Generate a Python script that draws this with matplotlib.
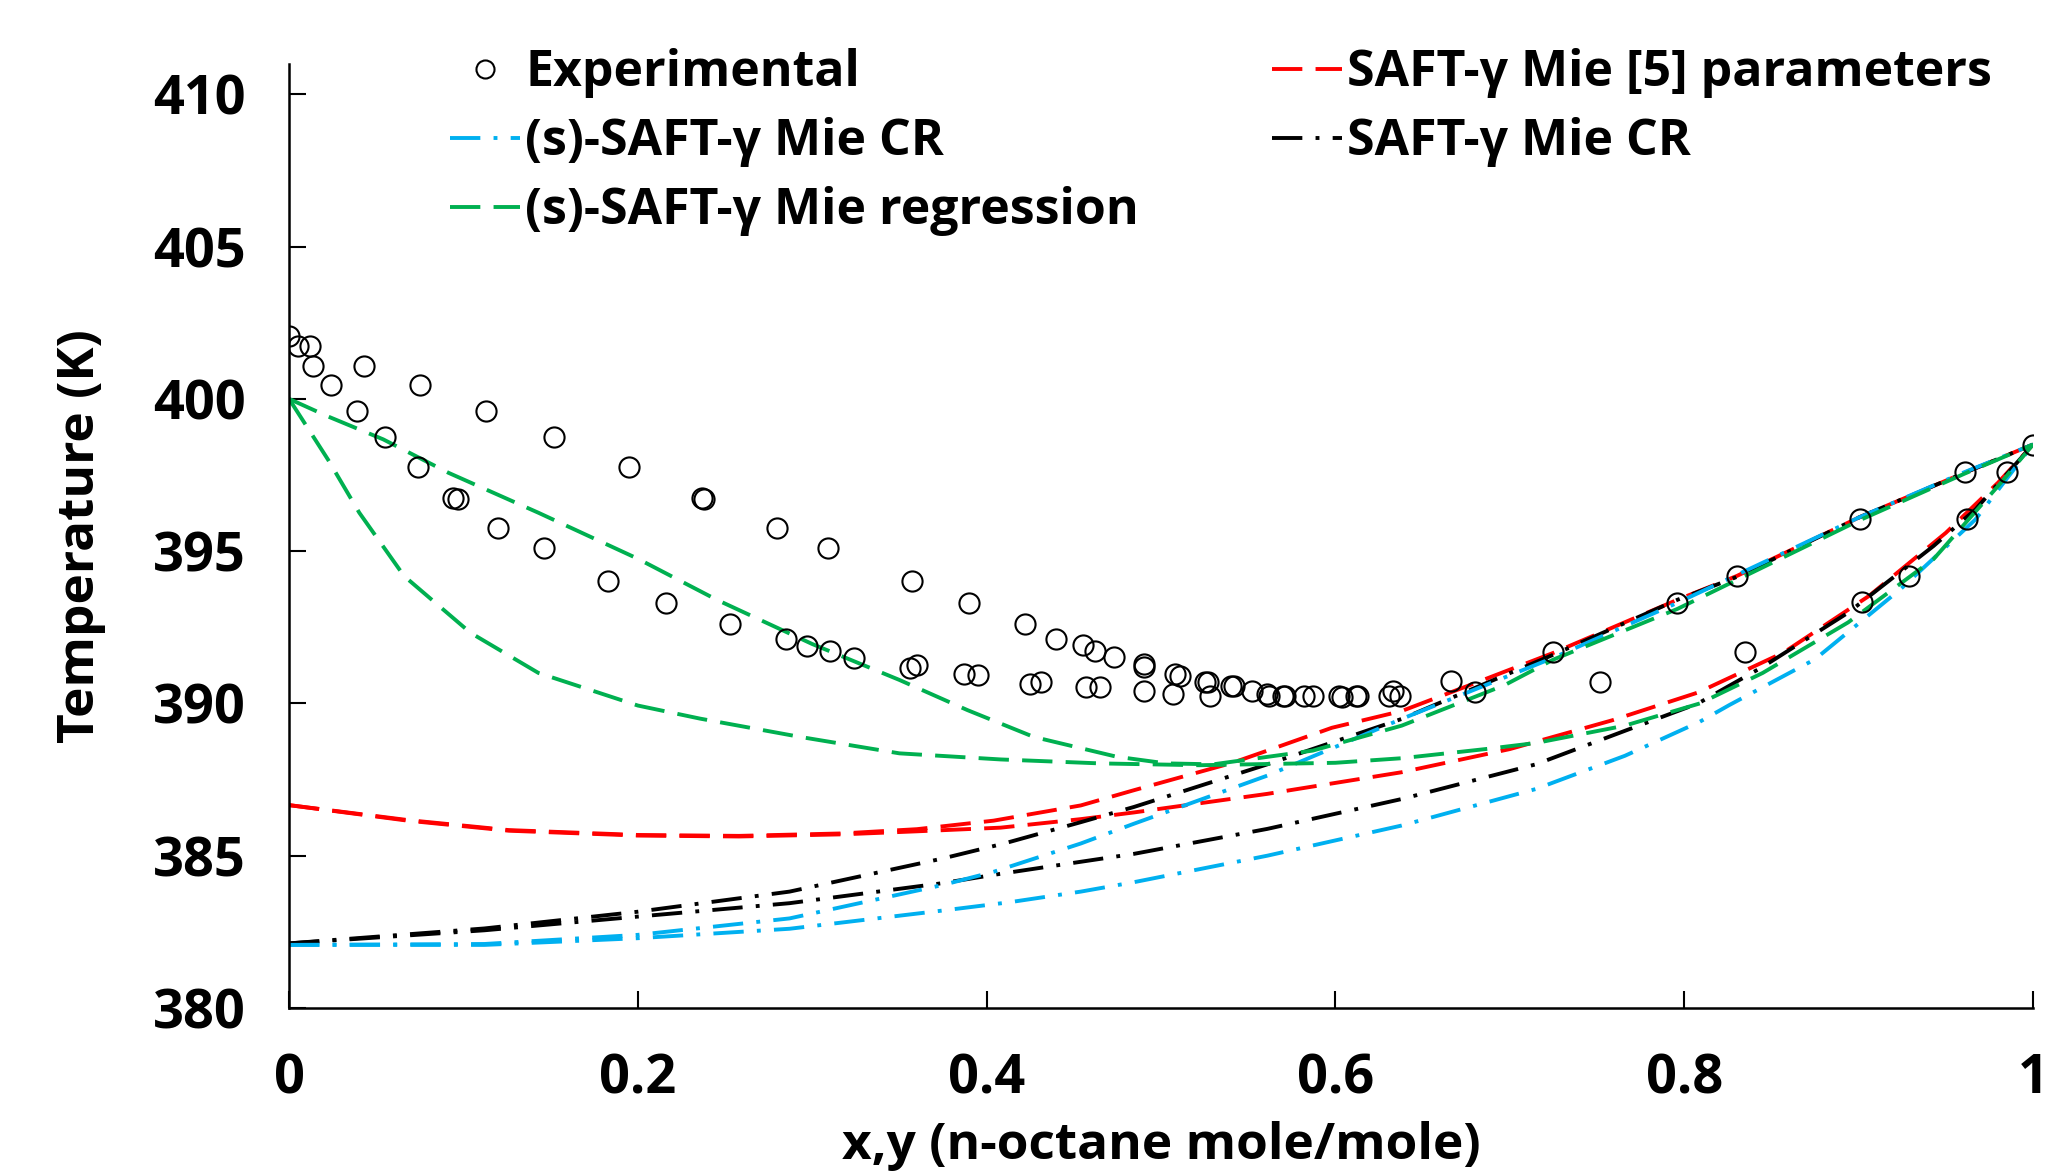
import matplotlib
matplotlib.use("Agg")
import matplotlib.pyplot as plt
from matplotlib.lines import Line2D

# Experimental T-x-y points
exp_x = [0.000, 0.005, 0.012, 0.014, 0.024, 0.043, 0.039, 0.055, 0.075, 0.074,
         0.094, 0.097, 0.113, 0.120, 0.146, 0.152, 0.183, 0.195, 0.216, 0.237,
         0.238, 0.253, 0.280, 0.285, 0.297, 0.310, 0.309, 0.324, 0.357, 0.356,
         0.360, 0.390, 0.387, 0.395, 0.422, 0.425, 0.431, 0.440, 0.455, 0.457,
         0.462, 0.465, 0.473, 0.490, 0.490, 0.490, 0.507, 0.508, 0.511, 0.525,
         0.527, 0.528, 0.540, 0.542, 0.552, 0.561, 0.562, 0.570, 0.571, 0.582,
         0.587, 0.602, 0.604, 0.612, 0.613, 0.631, 0.633, 0.637, 0.666, 0.680,
         0.725, 0.752, 0.796, 0.830, 0.835, 0.901, 0.902, 0.929, 0.961, 0.962,
         0.985, 1.000]
exp_T = [402.06, 401.73, 401.73, 401.07, 400.47, 401.07, 399.60, 398.74, 400.47, 397.76,
         396.75, 396.70, 399.60, 395.77, 395.11, 398.74, 394.02, 397.76, 393.29, 396.75,
         396.70, 392.60, 395.77, 392.13, 391.90, 391.72, 395.11, 391.50, 394.02, 391.17,
         391.25, 393.29, 390.96, 390.93, 392.60, 390.65, 390.70, 392.13, 391.91, 390.54,
         391.72, 390.54, 391.51, 391.29, 391.18, 390.40, 390.30, 390.96, 390.90, 390.71,
         390.70, 390.25, 390.58, 390.58, 390.41, 390.30, 390.23, 390.25, 390.25, 390.25,
         390.25, 390.25, 390.20, 390.25, 390.25, 390.25, 390.41, 390.25, 390.74, 390.36,
         391.69, 390.71, 393.31, 394.18, 391.69, 396.04, 393.33, 394.18, 397.59, 396.04,
         397.59, 398.50]

# SAFT-gamma Mie [5] parameters (red)
red_dew_x = [0, 0.068, 0.126, 0.2, 0.258, 0.317, 0.36, 0.404, 0.454, 0.4845, 0.541,
             0.561, 0.598, 0.638, 0.677, 0.725, 0.796, 0.83, 0.9, 0.961, 1.0]
red_dew_T = [386.66, 386.17, 385.84, 385.68, 385.65, 385.73, 385.87, 386.15, 386.65, 387.15, 388.05,
             388.45, 389.2, 389.75, 390.6, 391.66, 393.4, 394.18, 396.1, 397.58, 398.5]
red_bub_x = [0, 0.068, 0.126, 0.2, 0.258, 0.317, 0.36, 0.408, 0.454, 0.4845, 0.561, 0.638,
             0.70, 0.759, 0.808, 0.857, 0.906, 0.95, 0.98, 1.0]
red_bub_T = [386.66, 386.15, 385.82, 385.66, 385.63, 385.70, 385.80, 385.92, 386.2, 386.42, 387.03, 387.74,
             388.5, 389.45, 390.36, 391.67, 393.53, 395.6, 397.25, 398.5]

# SAFT-gamma Mie CR (black)
blk_dew_x = [0, 0.112, 0.2, 0.287, 0.375, 0.41, 0.454, 0.4845, 0.561, 0.638, 0.725,
             0.796, 0.83, 0.9, 0.961, 1.0]
blk_dew_T = [382.12, 382.61, 383.16, 383.82, 384.91, 385.4, 386.1, 386.6, 388.0, 389.49, 391.6,
             393.4, 394.15, 396.1, 397.58, 398.5]
blk_bub_x = [0, 0.112, 0.2, 0.287, 0.375, 0.404, 0.454, 0.4845, 0.561, 0.638, 0.715, 0.766,
             0.808, 0.845, 0.894, 0.943, 0.967, 1.0]
blk_bub_T = [382.12, 382.55, 383.0, 383.44, 384.1, 384.37, 384.8, 385.06, 385.88, 386.86, 388.0, 389.1,
             390.0, 391.2, 392.98, 395.17, 396.37, 398.5]

# (s)-SAFT-gamma Mie CR (blue)
blu_dew_x = [0, 0.112, 0.2, 0.287, 0.375, 0.404, 0.454, 0.4845, 0.561, 0.638, 0.69, 0.725,
             0.796, 0.9, 0.961, 1.0]
blu_dew_T = [382.07, 382.1, 382.4, 382.94, 384.04, 384.47, 385.4, 386.05, 387.63, 389.49, 390.69, 391.5,
             393.3, 396.1, 397.6, 398.5]
blu_bub_x = [0, 0.112, 0.2, 0.287, 0.375, 0.413, 0.454, 0.4845, 0.561, 0.638, 0.715, 0.766,
             0.809, 0.826, 0.875, 0.924, 0.967, 1.0]
blu_bub_T = [382.07, 382.07, 382.29, 382.6, 383.2, 383.47, 383.82, 384.13, 385.0, 385.99, 387.19, 388.28,
             389.4, 389.95, 391.45, 393.75, 396.04, 398.5]

# (s)-SAFT-gamma Mie regression (green)
grn_dew_x = [0, 0.022, 0.054, 0.0915, 0.143, 0.2, 0.245, 0.3, 0.35, 0.389, 0.427, 0.4745,
             0.503, 0.53, 0.587, 0.638, 0.697, 0.725, 0.796, 0.9, 0.961, 1.0]
grn_dew_T = [400.0, 399.43, 398.67, 397.57, 396.26, 394.75, 393.41, 391.95, 390.77, 389.78, 388.9, 388.25,
             388.03, 388.0, 388.45, 389.27, 390.6, 391.44, 393.1, 396.0, 397.55, 398.5]
grn_bub_x = [0, 0.0224, 0.0403, 0.066, 0.104, 0.143, 0.2, 0.2357, 0.293, 0.35, 0.408, 0.465,
             0.522, 0.6, 0.638, 0.686, 0.715, 0.766, 0.809, 0.845, 0.894, 0.943, 0.98, 1.0]
grn_bub_T = [400.0, 398.0, 396.26, 394.18, 392.32, 391.0, 389.93, 389.5, 388.9, 388.36, 388.16, 388.03,
             387.97, 388.05, 388.2, 388.5, 388.7, 389.27, 390.0, 391.0, 392.66, 394.74, 397.14, 398.5]

x_ticks = [0, 0.2, 0.4, 0.6, 0.8, 1]
x_tick_labels = ['0', '0.2', '0.4', '0.6', '0.8', '1']
y_ticks = [380, 385, 390, 395, 400, 405, 410]

RED = '#FF0000'
BLUE = '#00B0F0'
GREEN = '#00B050'
BLACK = '#000000'
LONG_DASH = (0, (7.8, 3.4))
DASH_DOT = (0, (7.8, 3.4, 1, 3.4))
LW = 2.8

plt.rcParams['font.family'] = ['Open Sans', 'DejaVu Sans']
plt.rcParams['font.weight'] = 'bold'

fig = plt.figure(figsize=(20.69, 11.76), dpi=100)
ax = fig.add_axes([0.1397, 0.1429, 0.8429, 0.8028])

ax.plot(red_dew_x, red_dew_T, color=RED, lw=LW, linestyle=LONG_DASH)
ax.plot(red_bub_x, red_bub_T, color=RED, lw=LW, linestyle=LONG_DASH)
ax.plot(blk_dew_x, blk_dew_T, color=BLACK, lw=LW, linestyle=DASH_DOT)
ax.plot(blk_bub_x, blk_bub_T, color=BLACK, lw=LW, linestyle=DASH_DOT)
ax.plot(blu_dew_x, blu_dew_T, color=BLUE, lw=LW, linestyle=DASH_DOT)
ax.plot(blu_bub_x, blu_bub_T, color=BLUE, lw=LW, linestyle=DASH_DOT)
ax.plot(grn_dew_x, grn_dew_T, color=GREEN, lw=LW, linestyle=LONG_DASH)
ax.plot(grn_bub_x, grn_bub_T, color=GREEN, lw=LW, linestyle=LONG_DASH)
ax.plot(exp_x, exp_T, linestyle='none', marker='o', markersize=14.5,
        markerfacecolor='none', markeredgecolor='black', markeredgewidth=1.5, zorder=5)

ax.set_xlim(0, 1)
ax.set_ylim(380, 411)
ax.set_xticks(x_ticks)
ax.set_xticklabels(x_tick_labels)
ax.set_yticks(y_ticks)
ax.tick_params(axis='both', direction='in', length=12, width=1.5, labelsize=39)
ax.tick_params(axis='y', pad=31)
ax.tick_params(axis='x', pad=32)
for side in ['top', 'right']:
    ax.spines[side].set_visible(False)
for side in ['left', 'bottom']:
    ax.spines[side].set_linewidth(1.8)

ax.set_xlabel('x,y (n-octane mole/mole)', fontsize=37, fontweight='bold')
ax.xaxis.set_label_coords(0.5, -0.12)
ax.set_ylabel('Temperature (K)', fontsize=37, fontweight='bold')
ax.yaxis.set_label_coords(-0.105, 0.5)

h_exp = Line2D([], [], linestyle='none', marker='o', markersize=13, markerfacecolor='none',
               markeredgecolor='black', markeredgewidth=1.5)
h_blu = Line2D([], [], color=BLUE, lw=LW, linestyle=DASH_DOT)
h_grn = Line2D([], [], color=GREEN, lw=LW, linestyle=LONG_DASH)
h_red = Line2D([], [], color=RED, lw=LW, linestyle=LONG_DASH)
h_blk = Line2D([], [], color=BLACK, lw=LW, linestyle=DASH_DOT)

W, H = 2069, 1176
leg_kw = dict(loc='upper left', frameon=False, borderpad=0, borderaxespad=0,
              handlelength=1.4, handletextpad=0.1, labelspacing=0.38,
              prop={'size': 36, 'weight': 'bold'})
leg1 = fig.legend([h_exp, h_blu, h_grn],
                  ['Experimental', '(s)-SAFT-γ Mie CR', '(s)-SAFT-γ Mie regression'],
                  bbox_to_anchor=(450 / W, 1 - 48 / H), **leg_kw)
leg2 = fig.legend([h_red, h_blk],
                  ['SAFT-γ Mie [5] parameters', 'SAFT-γ Mie CR'],
                  bbox_to_anchor=(1272 / W, 1 - 48 / H), **leg_kw)

fig.savefig('out.png', dpi=100)
